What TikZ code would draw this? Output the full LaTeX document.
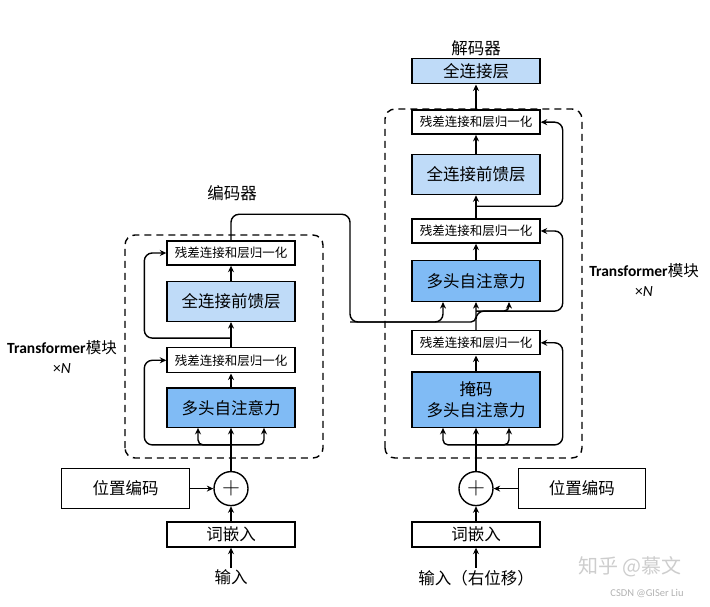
\documentclass[tikz,border=0pt]{standalone}
\usepackage{fontspec}
\setmainfont{Noto Sans CJK SC}
\newfontfamily\cjk{Noto Sans CJK SC}
\newfontfamily\enfont{Carlito}
\usepackage{tikz}
\usetikzlibrary{arrows,arrows.meta,positioning}
\usepackage{xcolor}
\definecolor{mhablue}{RGB}{128,187,245}
\definecolor{ffnblue}{RGB}{191,219,248}
\definecolor{markgray}{RGB}{205,205,205}
\tikzstyle{addnorm} = [rectangle, minimum width=128pt, minimum height=24pt, text centered, draw, line width=1.4pt, fill=white, inner sep=0pt, font=\fontsize{12.5}{14}\selectfont]
\tikzstyle{ffnbox} = [addnorm, minimum height=40pt, fill=ffnblue, font=\fontsize{16.5}{21}\selectfont]
\tikzstyle{attnbox} = [ffnbox, fill=mhablue]
\tikzstyle{embbox} = [addnorm, minimum height=25pt, font=\fontsize{16.5}{18}\selectfont]
\tikzstyle{adder} = [circle, draw, line width=1.4pt, minimum size=34pt, inner sep=0pt, fill=white]
\tikzstyle{arrow} = [line width=1.4pt, ->, >={Stealth[length=6.5pt,width=6pt]}]
\tikzstyle{blockbox} = [line width=1.4pt, dash pattern=on 7pt off 5pt, rounded corners=10pt]
\tikzstyle{tagtext} = [font=\fontsize{16.5}{18}\selectfont]
\tikzstyle{blocktag} = [align=center, font=\enfont\fontsize{15.5}{20}\selectfont]

\begin{document}
\begin{tikzpicture}[x=1pt,y=1pt]
\useasboundingbox (0,0) rectangle (710,606);

% Transformer blocks
\draw[blockbox] (125,148) rectangle (323,371);
\draw[blockbox] (385,148) rectangle (582,497);

% Encoder
\node[embbox] (emb1) at (231,71.5) {词嵌入};
\node[tagtext, below=20pt of emb1, inner sep=2pt] (in1) {输入};
\node[adder, above=15pt of emb1] (plus1) {\fontsize{26}{26}\selectfont$+$};
\node[embbox, minimum height=40pt, left=23pt of plus1] (pos1) {位置编码};
\node[attnbox, minimum height=39pt, above=43pt of plus1] (mha1) {多头自注意力};
\node[addnorm, minimum height=25pt, above=14pt of mha1] (an2) {残差连接和层归一化};
\node[ffnbox, above=25pt of an2] (ffn1) {全连接前馈层};
\node[addnorm, above=15pt of ffn1] (an1) {残差连接和层归一化};
\node[tagtext] (enc) at (232,413) {编码器};
\node[blocktag] (enctag) at (62,249) {{\bfseries Transformer}{\cjk 模块}\\×\textit{N}};

% Decoder
\node[embbox] (emb2) at (476,71.5) {词嵌入};
\node[tagtext, below=20pt of emb2, inner sep=2pt] (in2) {输入（右位移）};
\node[adder, above=15pt of emb2] (plus2) {\fontsize{26}{26}\selectfont$+$};
\node[embbox, minimum width=127pt, minimum height=40pt, right=24pt of plus2] (pos2) {位置编码};
\node[attnbox, minimum height=55pt, align=center, above=43pt of plus2] (mmha) {掩码\\多头自注意力};
\node[addnorm, above=16pt of mmha] (an3) {残差连接和层归一化};
\node[attnbox, minimum height=41pt, above=28pt of an3] (mha2) {多头自注意力};
\node[addnorm, above=16pt of mha2] (an4) {残差连接和层归一化};
\node[ffnbox, above=23pt of an4] (ffn2) {全连接前馈层};
\node[addnorm, above=19pt of ffn2] (an5) {残差连接和层归一化};
\node[embbox, fill=ffnblue, above=25pt of an5] (fc) {全连接层};
\node[tagtext] (dec) at (476,558) {解码器};
\node[blocktag] (dectag) at (644,326) {{\bfseries Transformer}{\cjk 模块}\\×\textit{N}};

% marks
\node[text=markgray, font=\fontsize{20}{22}\selectfont] (mark1) at (630,39) {知乎 @慕文};
\node[text=gray!60, font=\enfont\fontsize{10.5}{12}\selectfont] (mark2) at (647,13) {CSDN @GISer Liu};

% branch points
\coordinate (b1) at ([yshift=-17pt]mha1.south);
\coordinate (l1) at ([xshift=-22pt]an2.west);
\coordinate (b2) at ([yshift=9pt]an2.north);
\coordinate (l2) at ([xshift=-22pt]an1.west);
\coordinate (eo1) at ([yshift=26pt]an1.north);
\coordinate (eo2) at (350,284);
\coordinate (b3) at ([yshift=-17pt]mmha.south);
\coordinate (r1) at ([xshift=22pt]an3.east);
\coordinate (b4) at ([yshift=19pt]an3.north);
\coordinate (r2) at ([xshift=22pt]an4.east);
\coordinate (b5) at ([yshift=12pt]an4.north);
\coordinate (r3) at ([xshift=22pt]an5.east);

% encoder flow
\draw[arrow] (in1.north) -- (emb1.south);
\draw[arrow] (emb1.north) -- (plus1.south);
\draw[arrow] (pos1.east) -- (plus1.west);
\draw[arrow] (plus1.north) -- (mha1.south);
\draw[arrow, rounded corners=5pt] (b1) -| ([xshift=-33pt]mha1.south);
\draw[arrow, rounded corners=5pt] (b1) -| ([xshift=33pt]mha1.south);
\draw[arrow, rounded corners=8pt] (b1) -| (l1) -- (an2.west);
\draw[arrow] (mha1.north) -- (an2.south);
\draw[arrow] (an2.north) -- (ffn1.south);
\draw[arrow, rounded corners=8pt] (b2) -| (l2) -- (an1.west);
\draw[arrow] (ffn1.north) -- (an1.south);
\draw[arrow, rounded corners=8pt] (an1.north) -- (eo1) -| (eo2) -| ([xshift=-33pt]mha2.south);
\draw[arrow, rounded corners=5pt] (eo2) -| (mha2.south);

% decoder flow
\draw[arrow] (in2.north) -- (emb2.south);
\draw[arrow] (emb2.north) -- (plus2.south);
\draw[arrow] (pos2.west) -- (plus2.east);
\draw[arrow] (plus2.north) -- (mmha.south);
\draw[arrow, rounded corners=5pt] (b3) -| ([xshift=-33pt]mmha.south);
\draw[arrow, rounded corners=5pt] (b3) -| ([xshift=33pt]mmha.south);
\draw[arrow, rounded corners=8pt] (b3) -| (r1) -- (an3.east);
\draw[arrow] (mmha.north) -- (an3.south);
\draw[arrow, rounded corners=8pt] (an3.north) -- (b4) -| (r2) -- (an4.east);
\draw[arrow, rounded corners=5pt] (b4) -| ([xshift=33pt]mha2.south);
\draw[arrow] (mha2.north) -- (an4.south);
\draw[arrow] (an4.north) -- (ffn2.south);
\draw[arrow, rounded corners=8pt] (b5) -| (r3) -- (an5.east);
\draw[arrow] (ffn2.north) -- (an5.south);
\draw[arrow] (an5.north) -- (fc.south);
\end{tikzpicture}
\end{document}
